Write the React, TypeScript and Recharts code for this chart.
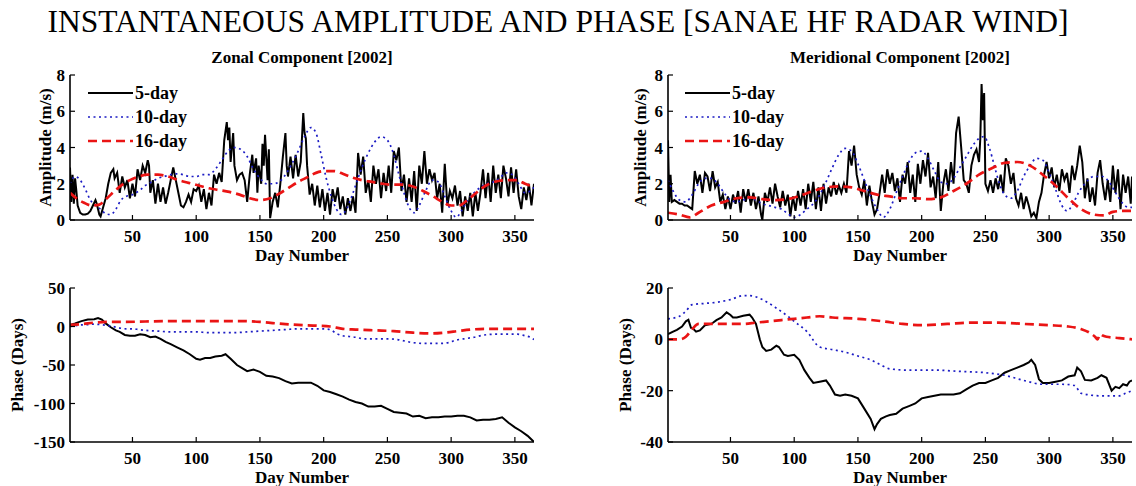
import React from 'react';
import { LineChart, Line, XAxis, YAxis, Legend } from 'recharts';

type Pt = [number, number];

// ---------- axis ticks / labels ----------
const DAY_TICKS = [50, 100, 150, 200, 250, 300, 350];
const DAY_DOMAIN: [number, number] = [1, 365];
const AMP_TICKS = [0, 2, 4, 6, 8];
const ZONAL_PHASE_TICKS = [-150, -100, -50, 0, 50];
const MERID_PHASE_TICKS = [-40, -20, 0, 20];
const SERIES_NAMES = ['5-day', '10-day', '16-day'];
const MAIN_TITLE = 'INSTANTANEOUS AMPLITUDE AND PHASE [SANAE HF RADAR WIND]';
const ZONAL_TITLE = 'Zonal Component [2002]';
const MERID_TITLE = 'Meridional Component [2002]';

// ---------- Zonal amplitude ----------
const zonalAmp5: Pt[] = [
  [1, 2.9], [2, 1.0], [3, 2.5], [4, 0.9], [5, 2.3], [6, 1.6], [7, 0.8], [9, 0.4], [11, 0.3], [13, 0.3], [15, 0.35],
  [17, 0.5], [19, 0.8], [21, 1.1], [22, 0.9], [24, 0.3], [25, 0.2], [27, 0.7], [29, 1.2], [31, 2.0], [33, 2.6],
  [35, 2.8], [36, 2.3], [38, 2.6], [40, 1.5], [42, 2.4], [44, 1.8], [46, 2.2], [48, 1.2], [50, 2.0], [52, 1.3],
  [54, 2.8], [56, 2.2], [58, 3.0], [60, 2.6], [62, 3.3], [63, 3.0], [64, 1.5], [66, 2.2], [68, 0.9], [70, 2.0],
  [72, 1.0], [74, 1.8], [76, 0.9], [78, 1.5], [80, 2.2], [82, 2.9], [84, 2.2], [86, 1.5], [88, 0.8], [90, 0.7],
  [92, 1.0], [94, 1.4], [96, 1.0], [98, 1.7], [100, 1.6], [102, 1.9], [104, 1.0], [106, 1.7], [108, 0.6], [110, 1.5],
  [112, 0.8], [114, 2.5], [116, 2.0], [118, 2.6], [120, 2.1], [122, 4.4], [124, 5.4], [125, 4.4], [126, 5.1],
  [127, 3.2], [129, 4.8], [130, 3.0], [132, 2.2], [134, 2.5], [136, 2.6], [138, 2.2], [140, 1.0], [142, 2.5],
  [144, 3.6], [145, 2.6], [147, 3.4], [148, 1.5], [149, 3.0], [151, 2.0], [152, 4.2], [153, 3.0], [154, 4.7],
  [156, 2.2], [157, 3.9], [158, 0.1], [160, 1.0], [162, 1.5], [164, 0.7], [166, 2.0], [168, 3.5], [170, 4.8],
  [171, 3.0], [172, 2.4], [174, 3.5], [176, 2.3], [178, 3.6], [180, 2.4], [182, 3.2], [184, 5.9], [185, 4.8],
  [186, 4.5], [187, 3.0], [189, 1.4], [191, 2.0], [193, 0.8], [195, 1.9], [197, 0.7], [199, 1.7], [201, 0.5],
  [203, 1.5], [205, 0.3], [207, 1.7], [209, 1.0], [211, 1.8], [213, 0.6], [215, 1.3], [217, 0.3], [219, 1.2],
  [221, 0.5], [223, 1.3], [225, 0.4], [227, 3.7], [229, 2.5], [231, 3.5], [233, 1.5], [235, 2.2], [237, 1.0],
  [239, 3.0], [241, 2.0], [243, 2.8], [245, 1.2], [247, 2.6], [249, 1.6], [251, 3.0], [253, 1.5], [255, 3.8],
  [257, 3.3], [259, 4.0], [261, 1.6], [263, 2.5], [265, 1.0], [267, 2.3], [269, 1.0], [271, 2.7], [273, 0.5],
  [275, 3.0], [277, 2.0], [279, 3.8], [281, 2.0], [283, 2.8], [285, 2.2], [287, 2.6], [289, 1.2], [291, 2.0],
  [293, 0.4], [295, 3.1], [297, 0.8], [299, 1.6], [301, 1.2], [303, 1.9], [305, 0.8], [307, 1.6], [309, 0.2],
  [311, 1.3], [313, 0.5], [315, 1.5], [317, 0.2], [319, 1.5], [321, 0.5], [323, 1.5], [325, 2.8], [327, 1.2],
  [329, 2.6], [331, 1.0], [333, 3.0], [335, 1.5], [337, 2.5], [339, 1.2], [341, 3.0], [343, 2.3], [345, 1.3],
  [347, 2.9], [349, 1.5], [351, 2.8], [353, 1.3], [355, 0.6], [357, 1.8], [359, 1.1], [361, 2.0], [363, 0.8],
  [365, 2.0],
];
const zonalAmp10: Pt[] = [
  [1, 2.0], [5, 2.4], [9, 2.2], [13, 1.7], [17, 1.1], [21, 0.8], [25, 0.6], [29, 0.35], [33, 0.3], [37, 0.6],
  [41, 1.1], [45, 1.3], [50, 1.4], [55, 1.6], [60, 1.9], [65, 2.1], [70, 2.3], [75, 2.4], [80, 2.5], [85, 2.55],
  [90, 2.5], [95, 2.4], [100, 2.4], [105, 2.5], [110, 2.5], [115, 2.8], [120, 3.3], [125, 3.8], [130, 4.0],
  [135, 3.9], [140, 3.5], [145, 2.8], [150, 2.3], [155, 2.0], [160, 2.0], [165, 2.1], [170, 2.5], [175, 3.1],
  [180, 3.8], [185, 4.6], [190, 5.1], [194, 4.8], [198, 3.6], [202, 2.3], [206, 1.3], [210, 0.6], [214, 0.3],
  [218, 0.6], [222, 1.3], [226, 2.1], [230, 2.9], [235, 3.7], [240, 4.3], [245, 4.6], [250, 4.4], [255, 3.6],
  [259, 2.5], [263, 1.5], [267, 0.7], [271, 0.4], [275, 0.8], [280, 1.6], [285, 2.2], [290, 2.1], [295, 1.3],
  [300, 0.5], [304, 0.15], [308, 0.5], [313, 1.1], [318, 1.5], [323, 1.8], [328, 2.0], [333, 2.1], [338, 2.3],
  [343, 2.6], [348, 2.5], [353, 2.0], [358, 1.5], [362, 1.6], [365, 1.8],
];
const zonalAmp16: Pt[] = [
  [1, 1.5], [6, 1.2], [12, 0.95], [18, 0.8], [24, 0.85], [30, 1.2], [36, 1.6], [42, 1.95], [48, 2.2], [55, 2.4],
  [62, 2.5], [70, 2.5], [78, 2.4], [86, 2.2], [94, 2.05], [102, 1.9], [110, 1.75], [118, 1.65], [126, 1.55],
  [134, 1.4], [142, 1.2], [150, 1.1], [158, 1.2], [165, 1.45], [172, 1.75], [180, 2.1], [187, 2.35], [194, 2.6],
  [201, 2.7], [208, 2.7], [215, 2.55], [222, 2.35], [230, 2.2], [238, 2.1], [246, 2.0], [254, 1.95], [262, 1.95],
  [270, 1.85], [278, 1.6], [286, 1.3], [293, 1.0], [300, 0.8], [306, 0.8], [312, 1.05], [318, 1.4], [324, 1.75],
  [330, 2.0], [337, 2.15], [344, 2.2], [351, 2.2], [358, 2.0], [365, 1.8],
];

// ---------- Meridional amplitude ----------
const meridAmp5: Pt[] = [
  [1, 4.4], [2, 1.0], [3, 2.5], [4, 1.0], [6, 1.1], [8, 1.0], [10, 0.9], [12, 0.9], [14, 0.8], [16, 0.8], [18, 0.7],
  [20, 0.6], [22, 2.7], [24, 2.0], [26, 2.5], [28, 1.5], [30, 2.6], [32, 2.4], [34, 1.6], [36, 2.7], [38, 1.8],
  [40, 2.1], [42, 1.0], [44, 1.4], [46, 0.6], [48, 1.3], [50, 0.6], [52, 1.4], [54, 0.9], [56, 1.6], [58, 0.4],
  [60, 1.7], [62, 1.0], [64, 1.7], [66, 0.8], [68, 1.5], [70, 0.6], [72, 1.3], [74, 0.3], [75, 0.0], [77, 1.5],
  [79, 1.0], [81, 1.8], [83, 0.9], [85, 2.0], [87, 1.3], [89, 0.7], [91, 1.6], [93, 0.8], [95, 1.4], [97, 0.2],
  [99, 1.3], [101, 0.5], [103, 1.6], [105, 0.8], [107, 1.7], [109, 0.6], [111, 2.0], [113, 1.0], [115, 2.1],
  [117, 0.6], [119, 1.8], [121, 0.5], [123, 2.0], [125, 0.9], [127, 1.8], [129, 1.3], [131, 2.1], [133, 1.4],
  [135, 1.9], [137, 1.5], [139, 2.0], [141, 1.5], [143, 3.8], [145, 3.0], [147, 4.1], [149, 2.5], [151, 1.8],
  [153, 1.4], [155, 2.2], [157, 0.8], [159, 1.9], [161, 1.0], [163, 0.3], [165, 0.6], [167, 1.5], [169, 2.5],
  [171, 1.5], [173, 2.8], [175, 2.0], [177, 2.6], [179, 1.6], [181, 2.3], [183, 1.0], [185, 2.5], [187, 2.0],
  [189, 3.2], [191, 1.5], [193, 2.5], [195, 1.0], [197, 3.1], [199, 2.0], [201, 3.3], [203, 2.4], [205, 3.7],
  [207, 1.8], [209, 2.4], [211, 1.2], [213, 3.2], [215, 0.5], [217, 2.0], [219, 2.8], [221, 1.6], [223, 3.2],
  [225, 2.0], [227, 4.8], [229, 5.7], [231, 4.0], [233, 2.2], [235, 2.0], [237, 1.5], [239, 3.0], [241, 3.6],
  [243, 3.9], [245, 3.2], [246, 4.5], [247, 7.5], [248, 5.5], [249, 7.0], [250, 2.0], [252, 1.6], [254, 2.2],
  [256, 1.5], [258, 2.3], [260, 1.7], [262, 2.5], [264, 1.5], [266, 3.4], [268, 3.0], [270, 2.0], [272, 2.6],
  [274, 1.2], [276, 0.8], [278, 1.5], [280, 0.6], [282, 1.3], [284, 0.8], [286, 0.2], [288, 0.4], [290, 0.1],
  [292, 1.0], [294, 1.5], [296, 2.5], [298, 3.2], [300, 2.3], [302, 2.9], [304, 1.8], [306, 2.5], [308, 1.6],
  [310, 2.8], [312, 2.2], [314, 2.6], [316, 1.5], [318, 3.0], [320, 2.2], [322, 3.0], [324, 4.1], [326, 3.2],
  [328, 1.2], [330, 2.3], [332, 1.0], [334, 1.8], [336, 0.8], [338, 2.6], [340, 3.3], [342, 2.0], [344, 1.1],
  [346, 2.2], [348, 1.0], [350, 3.0], [352, 1.5], [354, 2.8], [356, 0.6], [358, 2.5], [360, 1.5], [362, 2.4],
  [364, 0.9], [365, 2.4],
];
const meridAmp10: Pt[] = [
  [1, 2.2], [5, 1.6], [10, 1.1], [15, 1.0], [20, 1.4], [25, 2.0], [30, 2.3], [35, 2.3], [40, 2.0], [45, 1.5],
  [50, 1.1], [55, 1.0], [60, 1.1], [65, 1.2], [70, 1.1], [75, 0.9], [80, 0.8], [85, 0.7], [90, 0.6], [95, 0.35],
  [100, 0.15], [105, 0.3], [110, 0.6], [115, 0.9], [120, 1.4], [125, 2.1], [130, 2.9], [135, 3.6], [140, 3.95],
  [145, 3.8], [150, 3.1], [155, 2.2], [160, 1.3], [165, 0.6], [170, 0.15], [175, 0.6], [180, 1.5], [185, 2.4],
  [190, 3.2], [195, 3.7], [200, 3.8], [205, 3.4], [210, 2.7], [215, 2.1], [220, 2.0], [225, 2.3], [230, 2.9],
  [235, 3.5], [240, 4.1], [245, 4.5], [249, 4.6], [253, 4.0], [257, 3.0], [261, 2.0], [265, 1.4], [270, 1.2],
  [275, 1.6], [280, 2.4], [285, 3.0], [290, 3.4], [295, 3.3], [300, 2.6], [305, 1.7], [310, 0.8], [314, 0.5],
  [318, 0.8], [323, 1.5], [328, 2.0], [335, 2.4], [342, 2.4], [348, 2.0], [353, 1.4], [358, 0.9], [362, 0.7],
  [365, 0.7],
];
const meridAmp16: Pt[] = [
  [1, 0.4], [10, 0.3], [18, 0.15], [25, 0.4], [35, 0.8], [45, 1.0], [55, 1.2], [65, 1.25], [75, 1.15], [85, 1.1],
  [95, 1.15], [105, 1.35], [115, 1.6], [125, 1.8], [135, 1.85], [145, 1.8], [155, 1.6], [165, 1.4], [175, 1.3],
  [185, 1.2], [195, 1.2], [205, 1.15], [215, 1.25], [225, 1.6], [235, 2.0], [245, 2.5], [255, 2.85], [265, 3.15],
  [275, 3.2], [285, 3.0], [295, 2.5], [305, 1.9], [315, 1.2], [325, 0.6], [335, 0.3], [343, 0.25], [350, 0.45],
  [358, 0.5], [365, 0.5],
];

// ---------- Zonal phase ----------
const zonalPhase5: Pt[] = [
  [1, 2], [5, 4], [10, 7], [15, 9], [20, 9.5], [23, 11], [26, 9], [29, 4], [33, -1], [37, -5], [40, -7], [44, -11],
  [48, -12], [52, -12], [56, -10], [60, -11], [64, -14], [68, -13], [72, -16], [76, -20], [80, -23], [85, -27],
  [90, -31], [95, -36], [100, -42], [103, -43], [107, -41], [111, -41], [115, -39], [120, -38], [123, -36],
  [127, -42], [132, -50], [137, -55], [140, -58], [145, -56], [150, -59], [155, -64], [160, -65], [165, -67],
  [170, -71], [175, -74], [180, -73], [185, -73], [190, -73], [195, -77], [200, -83], [205, -85], [210, -88],
  [215, -91], [220, -95], [225, -98], [230, -100], [235, -104], [240, -104], [245, -103], [250, -107], [255, -111],
  [260, -112], [265, -113], [270, -117], [275, -116], [280, -119], [285, -118], [290, -118], [295, -117],
  [300, -117], [305, -116], [310, -116], [315, -118], [320, -122], [325, -121], [330, -121], [335, -120],
  [340, -118], [345, -125], [350, -131], [355, -136], [360, -142], [365, -150],
];
const zonalPhase10: Pt[] = [
  [1, 0], [5, 1], [10, 2], [15, 2.5], [20, 3], [25, 2.5], [30, 1.5], [35, 0], [40, -2], [45, -3], [50, -3],
  [55, -4], [60, -5], [70, -6], [80, -7], [90, -7], [100, -7], [110, -8], [120, -8], [130, -8], [140, -7],
  [150, -6], [160, -5], [170, -4], [180, -3], [190, -3], [200, -3], [205, -4], [210, -9], [215, -12], [220, -13],
  [225, -14], [232, -16], [240, -16], [250, -16], [258, -17], [264, -19], [270, -21], [280, -22], [290, -22],
  [298, -21], [303, -18], [310, -16], [318, -14], [326, -11], [335, -10], [345, -10], [352, -10], [358, -12],
  [362, -14], [365, -17],
];
const zonalPhase16: Pt[] = [
  [1, 2], [10, 3], [20, 5], [30, 6], [45, 6], [60, 6.5], [80, 7], [100, 7], [120, 7], [135, 7], [150, 6],
  [160, 4.5], [170, 3], [180, 2], [195, 1], [205, 0], [215, -3], [225, -4], [240, -5], [255, -6], [270, -8],
  [285, -9], [295, -8], [305, -6], [315, -4], [330, -3], [345, -3], [365, -3],
];

// ---------- Meridional phase ----------
const meridPhase5: Pt[] = [
  [1, 2], [5, 3], [8, 3.7], [12, 5], [15, 7], [17, 7.6], [19, 4.5], [21, 4], [23, 3], [26, 3.5], [30, 5.5],
  [35, 6], [39, 7.5], [43, 8.5], [47, 10.5], [50, 9.5], [52, 8.5], [55, 8.5], [60, 9.2], [65, 9.6], [67, 8.5],
  [70, 6], [73, 0], [75, -3], [78, -4.5], [82, -4], [86, -2.5], [88, -3], [92, -6], [95, -6.5], [100, -6],
  [104, -8], [108, -12], [112, -15], [115, -17], [120, -16.5], [125, -16], [128, -18], [132, -21.5], [136, -22],
  [140, -21.5], [145, -22], [150, -23], [155, -27], [160, -31], [163, -35], [165, -33], [168, -31], [172, -30],
  [175, -29.5], [180, -29], [185, -27], [190, -26], [195, -25], [200, -23], [205, -22.5], [210, -22],
  [215, -21.5], [220, -21.5], [225, -21.5], [230, -21], [235, -19.5], [240, -18], [245, -17], [250, -17],
  [255, -16], [260, -15], [265, -13], [270, -12], [275, -11], [280, -10], [284, -9], [286, -8], [289, -10],
  [292, -15.5], [295, -17], [300, -17], [305, -16.5], [310, -16], [315, -14.5], [320, -14], [322, -11],
  [325, -12.5], [328, -15.8], [333, -16], [338, -15], [341, -14], [345, -15], [349, -20], [352, -18.5],
  [355, -19], [358, -17.5], [361, -18], [363, -16.5], [365, -16],
];
const meridPhase10: Pt[] = [
  [1, 8], [10, 9], [15, 11], [20, 13.5], [30, 14], [40, 14.5], [50, 15.5], [60, 17], [65, 17], [75, 15.5],
  [85, 12.5], [95, 9], [100, 7], [110, 3], [120, -3], [130, -4], [140, -5], [150, -6.5], [160, -8], [170, -10.5],
  [175, -11.5], [190, -12], [210, -12], [230, -12.5], [250, -13], [265, -14], [280, -16], [295, -17.5],
  [310, -17.5], [320, -18], [325, -21], [340, -22], [355, -22], [360, -21], [365, -20],
];
const meridPhase16: Pt[] = [
  [1, 0], [10, 0], [15, 1], [20, 4], [25, 6], [40, 6], [60, 6], [70, 6.5], [80, 7], [90, 7.5], [100, 8],
  [110, 8.5], [120, 9], [130, 8.5], [150, 8], [170, 7], [185, 6], [200, 5.5], [220, 6], [240, 6.5], [260, 6.5],
  [280, 6], [300, 5.5], [315, 5], [325, 4], [332, 2.5], [336, 1], [338, 0], [340, 2], [342, 1.5], [345, 1],
  [355, 0.5], [365, 0],
];

// ---------- styles ----------
const FONT = '"Liberation Serif", "Times New Roman", serif';
const STYLES: Record<string, { stroke: string; dash?: string; width: number; type: 'linear' | 'monotone' }> = {
  '5-day': { stroke: '#000000', width: 2, type: 'linear' },
  '10-day': { stroke: '#1c1cc4', dash: '2 3.5', width: 1.7, type: 'monotone' },
  '16-day': { stroke: '#ea1414', dash: '9 5', width: 2.7, type: 'monotone' },
};
const TICK_STYLE = { fontFamily: FONT, fontSize: 17, fontWeight: 700, fill: '#000' };

const toRows = (pts: Pt[]) => pts.map(([d, v]) => ({ d, v }));

interface PanelProps {
  left: number;
  top: number;
  width: number;
  height: number;
  plotLeft: number;
  plotTop: number;
  plotRight: number;
  plotBottom: number;
  yDomain: [number, number];
  yTicks: number[];
  yLabel: string;
  yLabelDist: number;
  series: Pt[][];
  legendPos?: { left: number; top: number };
}

function Panel(p: PanelProps) {
  const yAxisW = 50;
  const margin = {
    top: p.plotTop,
    right: p.width - p.plotRight,
    left: p.plotLeft - yAxisW,
    bottom: 0,
  };
  const xAxisH = p.height - p.plotBottom;

  const xLabel = (props: any) => {
    const vb = props.viewBox;
    if (!vb) return null;
    return (
      <text x={vb.x + vb.width / 2} y={vb.y + 40.6} textAnchor="middle" fontFamily={FONT} fontSize={17} fontWeight={700} fill="#000">
        Day Number
      </text>
    );
  };
  const yLabel = (props: any) => {
    const vb = props.viewBox;
    if (!vb) return null;
    const cx = vb.x + vb.width - p.yLabelDist + 5.6;
    const cy = vb.y + vb.height / 2;
    return (
      <text x={cx} y={cy} transform={`rotate(-90, ${cx}, ${cy})`} textAnchor="middle" fontFamily={FONT} fontSize={17} fontWeight={700} fill="#000">
        {p.yLabel}
      </text>
    );
  };

  const legendContent = (props: any) => {
    const payload: any[] = [...(props.payload || [])].sort(
      (a, b) => SERIES_NAMES.indexOf(a.value) - SERIES_NAMES.indexOf(b.value),
    );
    return (
      <svg width={150} height={110} style={{ display: 'block' }}>
        {payload.map((entry, i) => {
          const s = STYLES[entry.value];
          const y = 13 + i * 24;
          return (
            <g key={entry.value}>
              <line x1={8} x2={53} y1={y} y2={y} stroke={s.stroke} strokeWidth={s.width} strokeDasharray={s.dash} />
              <text x={55} y={y + 6} fontFamily={FONT} fontSize={18} fontWeight={700} fill="#000">
                {entry.value}
              </text>
            </g>
          );
        })}
      </svg>
    );
  };

  return (
    <div style={{ position: 'absolute', left: p.left, top: p.top }}>
      <LineChart width={p.width} height={p.height} margin={margin}>
        <XAxis
          xAxisId="b"
          dataKey="d"
          type="number"
          domain={DAY_DOMAIN}
          allowDataOverflow
          ticks={DAY_TICKS}
          interval={0}
          height={xAxisH}
          tickSize={-5}
          tickMargin={15}
          tick={TICK_STYLE}
          axisLine={{ stroke: '#000', strokeWidth: 1.6 }}
          tickLine={{ stroke: '#000', strokeWidth: 1.2 }}
          label={xLabel}
        />
        <XAxis
          xAxisId="t"
          orientation="top"
          type="number"
          domain={DAY_DOMAIN}
          allowDataOverflow
          ticks={DAY_TICKS}
          interval={0}
          height={0}
          tickSize={-5}
          tick={false}
          axisLine={{ stroke: '#000', strokeWidth: 1.6 }}
          tickLine={{ stroke: '#000', strokeWidth: 1.2 }}
        />
        <YAxis
          yAxisId="l"
          type="number"
          domain={p.yDomain}
          allowDataOverflow
          ticks={p.yTicks}
          interval={0}
          width={yAxisW}
          tickSize={-5}
          tickMargin={10}
          tick={TICK_STYLE}
          axisLine={{ stroke: '#000', strokeWidth: 1.6 }}
          tickLine={{ stroke: '#000', strokeWidth: 1.2 }}
          label={yLabel}
        />
        <YAxis
          yAxisId="r"
          orientation="right"
          type="number"
          domain={p.yDomain}
          allowDataOverflow
          ticks={p.yTicks}
          interval={0}
          width={0}
          tickSize={-5}
          tick={false}
          axisLine={{ stroke: '#000', strokeWidth: 1.6 }}
          tickLine={{ stroke: '#000', strokeWidth: 1.2 }}
        />
        {p.series.map((pts, i) => {
          const name = SERIES_NAMES[i];
          const s = STYLES[name];
          return (
            <Line
              key={name}
              name={name}
              data={toRows(pts)}
              dataKey="v"
              xAxisId="b"
              yAxisId="l"
              type={s.type}
              stroke={s.stroke}
              strokeWidth={s.width}
              strokeDasharray={s.dash}
              dot={false}
              activeDot={false}
              isAnimationActive={false}
            />
          );
        })}
        {p.legendPos && (
          <Legend
            layout="vertical"
            align="center"
            verticalAlign="middle"
            content={legendContent}
            wrapperStyle={{ left: p.legendPos.left, top: p.legendPos.top, width: 150, height: 110, bottom: 'auto', right: 'auto', margin: 0 }}
          />
        )}
      </LineChart>
    </div>
  );
}

export default function App() {
  return (
    <div style={{ position: 'absolute', left: 0, top: 0, width: 1136, height: 486, background: '#fff', overflow: 'hidden' }}>
      <svg width={1136} height={486} style={{ position: 'absolute', left: 0, top: 0 }}>
        <text x={558} y={32} textAnchor="middle" fontFamily={FONT} fontSize={31.5} fill="#000">
          {MAIN_TITLE}
        </text>
        <text x={302} y={63} textAnchor="middle" fontFamily={FONT} fontSize={17} fontWeight={700} fill="#000">
          {ZONAL_TITLE}
        </text>
        <text x={900} y={63} textAnchor="middle" fontFamily={FONT} fontSize={17} fontWeight={700} fill="#000">
          {MERID_TITLE}
        </text>
      </svg>
      <Panel
        left={0} top={40} width={568} height={240}
        plotLeft={70} plotTop={35} plotRight={534} plotBottom={180}
        yDomain={[0, 8]} yTicks={AMP_TICKS}
        yLabel="Amplitude (m/s)" yLabelDist={25}
        series={[zonalAmp5, zonalAmp10, zonalAmp16]}
        legendPos={{ left: 80, top: 40 }}
      />
      <Panel
        left={600} top={40} width={536} height={240}
        plotLeft={68} plotTop={35} plotRight={532} plotBottom={180}
        yDomain={[0, 8]} yTicks={AMP_TICKS}
        yLabel="Amplitude (m/s)" yLabelDist={28}
        series={[meridAmp5, meridAmp10, meridAmp16]}
        legendPos={{ left: 77, top: 40 }}
      />
      <Panel
        left={0} top={250} width={568} height={236}
        plotLeft={70} plotTop={38} plotRight={534} plotBottom={192}
        yDomain={[-150, 50]} yTicks={ZONAL_PHASE_TICKS}
        yLabel="Phase (Days)" yLabelDist={52.5}
        series={[zonalPhase5, zonalPhase10, zonalPhase16]}
      />
      <Panel
        left={600} top={250} width={536} height={236}
        plotLeft={68} plotTop={38} plotRight={532} plotBottom={192}
        yDomain={[-40, 20]} yTicks={MERID_PHASE_TICKS}
        yLabel="Phase (Days)" yLabelDist={43}
        series={[meridPhase5, meridPhase10, meridPhase16]}
      />
    </div>
  );
}
